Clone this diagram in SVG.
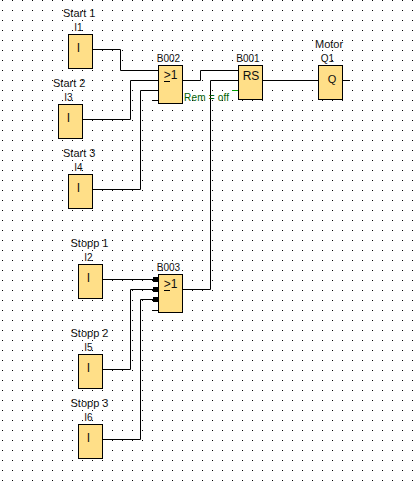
<svg xmlns="http://www.w3.org/2000/svg" width="415" height="490" viewBox="0 0 415 490">
<style>
.b{fill:#ffdf88;stroke:#000;stroke-width:1}
.w{fill:none;stroke:#000;stroke-width:1}
text{font-family:"Liberation Sans",Arial,sans-serif;fill:#111}
.n{font-size:11px}
.id{font-size:10px;text-anchor:middle}
.g{font-size:12px;text-anchor:middle}
</style>
<defs>
<pattern id="dots" width="10" height="10" patternUnits="userSpaceOnUse" x="2" y="0"><rect width="1" height="1" fill="#000"/></pattern>
</defs>
<rect width="415" height="490" fill="#fff"/>
<rect width="415" height="490" fill="url(#dots)"/>
<g id="connectors">
<path class="w" d="M92 49.500H120.500V70.500H158"/>
<path class="w" d="M82 119.500H130.500V80.500H158"/>
<path class="w" d="M92 189.500H140.500V90.500H158"/>
<path class="w" d="M152 100.500H158"/>
<path class="w" d="M182 80.500H200.500V70.500H238"/>
<path class="w" d="M182 289.500H210.500V80.500H238"/>
<path d="M232 90.500H238" fill="none" stroke="#00a000"/>
<path class="w" d="M262 80.500H318"/>
<path class="w" d="M342 80.500H350"/>
<path class="w" d="M102 279.500H158"/>
<path class="w" d="M102 369.500H130.500V289.500H158"/>
<path class="w" d="M102 439.500H140.500V299.500H158"/>
<path class="w" d="M152 310.500H158"/>
<rect x="153" y="277" width="5" height="5"/>
<rect x="153" y="287" width="5" height="5"/>
<rect x="153" y="297" width="5" height="5"/>
</g>
<g id="I1"><rect class="b" x="68.500" y="34.500" width="24" height="34"/><text class="g" x="78.500" y="52">I</text><text class="id" x="78.500" y="31">I1</text><text class="n" x="63" y="17">Start 1</text></g>
<g id="I3"><rect class="b" x="58.500" y="104.500" width="24" height="34"/><text class="g" x="68.500" y="122">I</text><text class="id" x="68.500" y="101">I3</text><text class="n" x="53" y="87">Start 2</text></g>
<g id="I4"><rect class="b" x="68.500" y="174.500" width="24" height="34"/><text class="g" x="78.500" y="192">I</text><text class="id" x="78.500" y="171">I4</text><text class="n" x="63" y="157">Start 3</text></g>
<g id="I2"><rect class="b" x="78.500" y="264.500" width="24" height="34"/><text class="g" x="88.500" y="282">I</text><text class="id" x="88.500" y="261">I2</text><text class="n" x="70.500" y="247">Stopp 1</text></g>
<g id="I5"><rect class="b" x="78.500" y="354.500" width="24" height="34"/><text class="g" x="88.500" y="372">I</text><text class="id" x="88.500" y="351">I5</text><text class="n" x="70.500" y="337">Stopp 2</text></g>
<g id="I6"><rect class="b" x="78.500" y="424.500" width="24" height="34"/><text class="g" x="88.500" y="442">I</text><text class="id" x="88.500" y="421">I6</text><text class="n" x="70.500" y="407">Stopp 3</text></g>
<g id="B002"><rect class="b" x="158.500" y="65.500" width="24" height="38"/><text class="g" x="170.500" y="79">&gt;1</text><path class="w" d="M164 81.500H170"/><text class="id" x="168.500" y="62">B002</text><text x="184" y="101" font-size="10" textLength="45" style="fill:#006000">Rem = off</text></g>
<g id="B001"><rect class="b" x="238.500" y="65.500" width="24" height="34"/><text class="g" x="251" y="79.500">RS</text><text class="id" x="248" y="62">B001</text></g>
<g id="Q1"><rect class="b" x="318.500" y="65.500" width="24" height="34"/><text class="g" x="332" y="82.500" style="font-size:11px">Q</text><text class="id" x="327.500" y="62">Q1</text><text class="n" x="315" y="48">Motor</text></g>
<g id="B003"><rect class="b" x="158.500" y="274.500" width="24" height="38"/><text class="g" x="170.500" y="288">&gt;1</text><path class="w" d="M164 290.500H170"/><text class="id" x="168.500" y="271">B003</text></g>
</svg>
